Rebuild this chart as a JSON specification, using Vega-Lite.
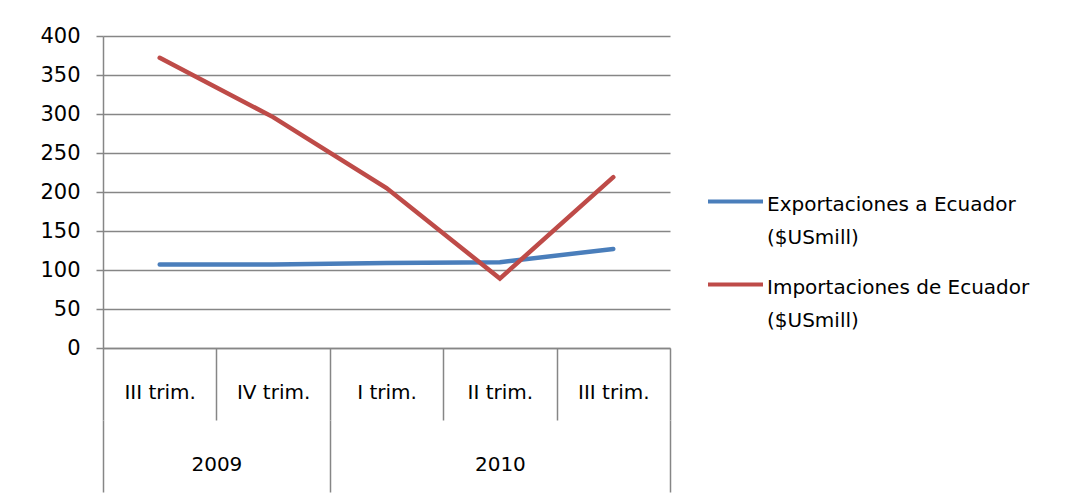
{
  "$schema": "https://vega.github.io/schema/vega-lite/v6.json",
  "width": 567,
  "height": 312,
  "autosize": "none",
  "padding": {"left": 103, "top": 36, "right": 395, "bottom": 154},
  "background": "white",
  "config": {
    "view": {"stroke": null},
    "font": "DejaVu Sans",
    "style": {"guide-label": {"lineHeight": 33}}
  },
  "data": {
    "values": [
      {"q": "2009 III trim.", "serie": "Exportaciones a Ecuador ($USmill)", "valor": 107},
      {"q": "2009 IV trim.", "serie": "Exportaciones a Ecuador ($USmill)", "valor": 107},
      {"q": "2010 I trim.", "serie": "Exportaciones a Ecuador ($USmill)", "valor": 109},
      {"q": "2010 II trim.", "serie": "Exportaciones a Ecuador ($USmill)", "valor": 110},
      {"q": "2010 III trim.", "serie": "Exportaciones a Ecuador ($USmill)", "valor": 127},
      {"q": "2009 III trim.", "serie": "Importaciones de Ecuador ($USmill)", "valor": 372},
      {"q": "2009 IV trim.", "serie": "Importaciones de Ecuador ($USmill)", "valor": 296},
      {"q": "2010 I trim.", "serie": "Importaciones de Ecuador ($USmill)", "valor": 205},
      {"q": "2010 II trim.", "serie": "Importaciones de Ecuador ($USmill)", "valor": 89},
      {"q": "2010 III trim.", "serie": "Importaciones de Ecuador ($USmill)", "valor": 219}
    ]
  },
  "layer": [
    {
      "mark": {"type": "line", "strokeWidth": 4.5, "strokeCap": "round"},
      "encoding": {
        "x": {
          "field": "q",
          "type": "ordinal",
          "bandPosition": 0.5,
          "scale": {
            "type": "band",
            "paddingInner": 0,
            "paddingOuter": 0,
            "domain": ["2009 III trim.", "2009 IV trim.", "2010 I trim.", "2010 II trim.", "2010 III trim."]
          },
          "axis": {
            "orient": "bottom",
            "title": null,
            "tickBand": "extent",
            "labelExpr": "datum.value ? slice(datum.value, 5) : ''",
            "labelAngle": 0,
            "labelFontSize": 20,
            "labelColor": "black",
            "labelBaseline": "top",
            "labelPadding": -38,
            "tickSize": 72,
            "tickColor": "#868686",
            "tickWidth": 1.5,
            "domainColor": "#868686",
            "domainWidth": 1.5,
            "grid": false
          }
        },
        "y": {
          "field": "valor",
          "type": "quantitative",
          "scale": {"domain": [0, 400], "nice": false},
          "axis": {
            "title": null,
            "values": [0, 50, 100, 150, 200, 250, 300, 350, 400],
            "grid": true,
            "gridColor": "#868686",
            "gridWidth": 1.5,
            "domainColor": "#868686",
            "domainWidth": 1.5,
            "tickColor": "#868686",
            "tickWidth": 1.5,
            "tickSize": 7,
            "labelPadding": 16,
            "labelFontSize": 21,
            "labelColor": "black"
          }
        },
        "color": {
          "field": "serie",
          "type": "nominal",
          "scale": {
            "domain": ["Exportaciones a Ecuador ($USmill)", "Importaciones de Ecuador ($USmill)"],
            "range": ["#4A7EBB", "#BE4B48"]
          },
          "legend": {
            "title": null,
            "orient": "none",
            "legendX": 603,
            "legendY": 129,
            "padding": 0,
            "symbolType": "M-1,0.25L1,0.25",
            "symbolSize": 3025,
            "symbolStrokeWidth": 4,
            "labelFontSize": 20,
            "labelColor": "black",
            "labelBaseline": "top",
            "labelOffset": 2,
            "labelLimit": 400,
            "rowPadding": -1,
            "labelExpr": "[slice(datum.label, 0, indexof(datum.label, ' (')), slice(datum.label, indexof(datum.label, ' (') + 1)]"
          }
        }
      }
    },
    {
      "mark": {"type": "point", "opacity": 0},
      "encoding": {
        "x": {
          "field": "q",
          "type": "ordinal",
          "scale": {
            "type": "band",
            "paddingInner": 0,
            "paddingOuter": 0,
            "domain": ["2009 III trim.", "2009 IV trim.", "2010 I trim.", "2010 II trim.", "2010 III trim."]
          },
          "axis": {
            "orient": "bottom",
            "title": null,
            "offset": 72,
            "domain": false,
            "tickBand": "extent",
            "labelExpr": "datum.value == '2009 IV trim.' ? '2009' : datum.value == '2010 II trim.' ? '2010' : ''",
            "labelOffset": {"condition": {"test": "datum.value == '2009 IV trim.'", "value": -56.7}, "value": 0},
            "tickOpacity": {"condition": {"test": "datum.value == '2009 III trim.' || datum.value == '2010 I trim.' || datum.value == '2010 II trim.'", "value": 0}, "value": 1},
            "labelAngle": 0,
            "labelFontSize": 20,
            "labelColor": "black",
            "labelBaseline": "top",
            "labelPadding": -38,
            "tickSize": 72,
            "tickColor": "#868686",
            "tickWidth": 1.5,
            "grid": false
          }
        }
      }
    }
  ],
  "resolve": {"axis": {"x": "independent"}}
}
